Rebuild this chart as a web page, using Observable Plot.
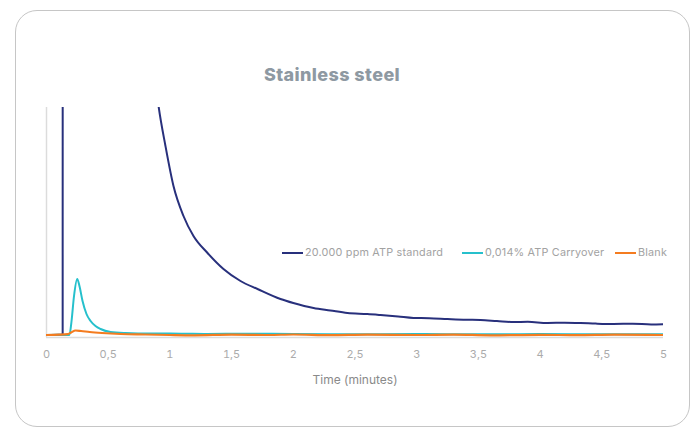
<!DOCTYPE html>
<html>
<head>
<meta charset="utf-8">
<script src="https://cdn.jsdelivr.net/npm/d3@7"></script>
<script src="https://cdn.jsdelivr.net/npm/@observablehq/plot@0.6"></script>
<style>
  html, body { margin: 0; padding: 0; background: #fff; width: 699px; height: 432px; overflow: hidden; }
  #card { position: absolute; left: 15px; top: 10px; width: 675px; height: 417px; border: 1.6px solid #c6c6c6; border-radius: 22px; box-sizing: border-box; }
  #title { position: absolute; left: 0; top: 64px; width: 664px; text-align: center; font-family: Inter, "Open Sans", sans-serif; font-weight: 800; font-size: 18px; letter-spacing: 0.4px; color: #8e99a2; line-height: 22px; }
  #chart { position: absolute; left: 0; top: 0; }
  .leg { position: absolute; top: 246px; display: flex; align-items: center; font-family: Inter, "Open Sans", sans-serif; font-size: 10.8px; letter-spacing: 0.2px; color: #a2a2a2; line-height: 14px; white-space: nowrap; }
  .leg span.sw { display: inline-block; width: 21px; height: 2.5px; margin-right: 2px; }
</style>
</head>
<body>
<div id="card"></div>
<div id="title">Stainless steel</div>
<div id="chart"></div>
<div id="legend"></div>
<script>
// Series names and colours
const seriesNames = ["20.000 ppm ATP standard", "0,014% ATP Carryover", "Blank"];
const seriesColors = ["#28307c", "#26c0cc", "#f47c20"];
const xTicks = [0, 0.5, 1, 1.5, 2, 2.5, 3, 3.5, 4, 4.5, 5];

// Time (minutes) and signal (arbitrary units)
const stdTime = [0, 0.12, 0.131, 0.134, 0.3, 0.5, 0.7, 0.85, 0.908, 0.964, 1.029, 1.11, 1.191, 1.305, 1.434, 1.572, 1.71, 1.896, 2.0, 2.164, 2.3, 2.439, 2.6, 2.707, 2.85, 2.974, 3.1, 3.25, 3.4, 3.517, 3.65, 3.784, 3.9, 4.06, 4.2, 4.327, 4.45, 4.595, 4.75, 4.9, 5.0];
const stdValue = [0, 0.3, 0, 3000, 1500, 800, 450, 290, 229, 189, 149, 119, 99, 82, 66, 54, 46, 36, 32, 27, 24.5, 22, 21, 20, 18.5, 17, 16.8, 16, 15.3, 15, 14, 13, 13.2, 12, 12.3, 12, 11.4, 11, 11.3, 10.6, 10.8];

const carryTime = [0, 0.1, 0.186, 0.203, 0.223, 0.249, 0.267, 0.292, 0.324, 0.357, 0.397, 0.438, 0.519, 0.64, 0.843, 1.0, 1.15, 1.3, 1.6, 2.0, 2.5, 3.0, 3.5, 4.0, 4.5, 5.0];
const carryValue = [0, 0.2, 0, 14, 39, 56, 49, 34, 21, 14, 9, 6, 3, 2, 1.5, 1.5, 1.2, 1, 1.3, 1, 0.8, 1, 0.7, 0.9, 0.8, 0.8];

const blankTime = [0, 0.1, 0.17, 0.2, 0.235, 0.28, 0.35, 0.45, 0.6, 0.8, 1.0, 1.2, 1.5, 1.8, 2.0, 2.3, 2.6, 3.0, 3.3, 3.6, 4.0, 4.3, 4.6, 5.0];
const blankValue = [0, 0.3, 0.8, 2.5, 4.5, 4, 3, 2, 1, 0.5, 0, -0.3, 0.4, 0, 0.5, -0.2, 0.3, 0, 0.4, -0.3, 0.2, -0.2, 0.3, 0];

const yDomain = [-2.5, 227.5];

const toRows = (t, v) => t.map((x, i) => ({t: x, v: v[i]}));
const stdRows = toRows(stdTime, stdValue);
const carryRows = toRows(carryTime, carryValue);
const blankRows = toRows(blankTime, blankValue);

const fmt = d => String(d).replace(".", ",");

const chart = Plot.plot({
  width: 699,
  height: 400,
  marginLeft: 46,
  marginRight: 36,
  marginTop: 107,
  marginBottom: 63,
  style: {fontFamily: "Inter, 'Open Sans', sans-serif", background: "transparent", overflow: "visible"},
  x: {domain: [0, 5]},
  y: {domain: yDomain, axis: null},
  marks: [
    Plot.ruleX([0], {stroke: "#dcdcdc", strokeWidth: 1.5}),
    Plot.ruleY([yDomain[0]], {stroke: "#dcdcdc", strokeWidth: 1.5}),
    Plot.axisX({ticks: xTicks, tickFormat: fmt, tickSize: 0, tickPadding: 13, fontSize: 11, color: "#ababab", label: null}),
    Plot.axisX({ticks: [], label: "Time (minutes)", labelAnchor: "center", labelOffset: 46, labelArrow: "none", fontSize: 12, color: "#8a8a8a"}),
    Plot.line(stdRows, {x: "t", y: "v", stroke: seriesColors[0], strokeWidth: 2, clip: true, curve: "monotone-x"}),
    Plot.line(carryRows, {x: "t", y: "v", stroke: seriesColors[1], strokeWidth: 2, clip: true, curve: "monotone-x"}),
    Plot.line(blankRows, {x: "t", y: "v", stroke: seriesColors[2], strokeWidth: 2.2, clip: true, curve: "monotone-x"})
  ]
});
document.getElementById("chart").appendChild(chart);

const legendLefts = [282, 462, 615];
const legend = document.getElementById("legend");
seriesNames.forEach((name, i) => {
  const d = document.createElement("div");
  d.className = "leg";
  d.style.left = legendLefts[i] + "px";
  d.innerHTML = `<span class="sw" style="background:${seriesColors[i]}"></span>${name}`;
  legend.appendChild(d);
});
</script>
</body>
</html>
